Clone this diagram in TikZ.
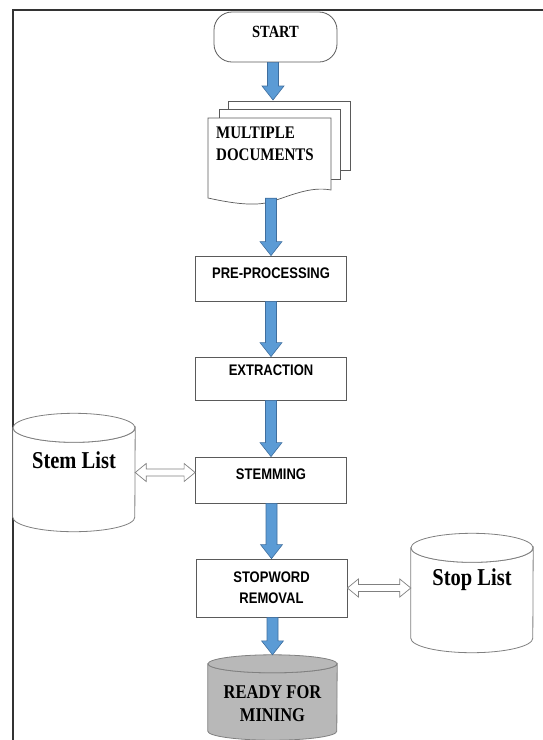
\documentclass[tikz,border=0pt]{standalone}
\usepackage{graphicx}
\usepackage{fontspec}
\setmainfont{Liberation Serif}
\newfontfamily\arialfont{Liberation Sans}
\usetikzlibrary{calc}

\definecolor{flowblue}{HTML}{5B9BD5}
\definecolor{flowblueedge}{HTML}{3F6E9E}
\definecolor{boxedge}{HTML}{5A5A5A}
\definecolor{cyledge}{HTML}{808080}
\definecolor{dbgrey}{HTML}{B8B8B8}

% slightly tall lettering
\newcommand\tall[1]{\scalebox{1}[1.18]{#1}}

% vertical block arrow from point #1 down to point #2 (x taken from #2)
\newcommand\blockarrow[2]{%
  \draw[blockarrowstyle] let \p1=#1, \p2=#2 in
    (\x2-5.5pt,\y1) -- (\x2-5.5pt,\y2+14pt) -- (\x2-11pt,\y2+14pt) -- (\x2,\y2)
    -- (\x2+11pt,\y2+14pt) -- (\x2+5.5pt,\y2+14pt) -- (\x2+5.5pt,\y1) -- cycle;}

% hollow two-headed horizontal arrow between points #1 and #2 (y taken from #1)
\newcommand\hollowdouble[2]{%
  \draw[hollowstyle] let \p1=#1, \p2=#2 in
    (\x1,\y1) -- (\x1+11pt,\y1+9pt) -- (\x1+11pt,\y1+3.5pt) -- (\x2-11pt,\y1+3.5pt)
    -- (\x2-11pt,\y1+9pt) -- (\x2,\y1) -- (\x2-11pt,\y1-9pt) -- (\x2-11pt,\y1-3.5pt)
    -- (\x1+11pt,\y1-3.5pt) -- (\x1+11pt,\y1-9pt) -- cycle;}

% cylinder outline around an invisible node #1 whose top/bottom are the ellipse centres
\newcommand\cylinderbody[4]{% name, half width, y radius, fill
  \filldraw[cylstyle, fill=#4] (#1.north west) -- (#1.south west)
    arc[start angle=180, end angle=360, x radius=#2, y radius=#3]
    -- (#1.north east) arc[start angle=0, end angle=-180, x radius=#2, y radius=#3] -- cycle;
  \filldraw[cylstyle, fill=#4] (#1.north) ellipse[x radius=#2, y radius=#3];}

\begin{document}
\begin{tikzpicture}[x=1pt, y=-1pt,
  stepbox/.style={draw=boxedge, line width=0.8pt, fill=white, minimum width=151pt,
    inner sep=0pt, align=center, font=\arialfont\bfseries\fontsize{13}{21}\selectfont},
  startbox/.style={draw=boxedge, line width=0.8pt, rounded corners=18pt, minimum width=123pt,
    minimum height=50pt, inner sep=0pt, font=\bfseries\fontsize{14.5}{16}\selectfont},
  pagestyle/.style={draw=boxedge, line width=0.7pt, fill=white},
  cylstyle/.style={draw=cyledge, line width=0.8pt},
  cylholder/.style={inner sep=0pt},
  cyltext/.style={font=\bfseries\fontsize{20.5}{22}\selectfont, align=center},
  blockarrowstyle/.style={draw=flowblueedge, line width=0.6pt, fill=flowblue},
  hollowstyle/.style={draw=cyledge, line width=0.7pt, fill=white},
  framestyle/.style={draw=black!80, line width=1.6pt}
]
\useasboundingbox (0,0) rectangle (543,740);

% page frame
\draw[framestyle] (543,10) -- (13,10) -- (13,740);

% start terminal
\node[startbox] (start) at (275.5,37)
  {\raisebox{5pt}[\height][\depth]{\tall{START}}};

% stack of documents
\coordinate (pagetop) at (273,100);
\filldraw[pagestyle] (228,101) rectangle (350,170);
\filldraw[pagestyle] (219,109) rectangle (340,179);
\filldraw[pagestyle] (208,118) -- (331,118) -- (331,190)
  .. controls (310,186) and (290,196) .. (270,202)
  .. controls (255,206) and (235,204) .. (208,198) -- cycle;
\node[minimum width=123pt, minimum height=80pt, inner sep=0pt] (docs) at (269.5,158) {};
\node[anchor=west, align=left, inner sep=0pt,
  font=\bfseries\fontsize{15}{22}\selectfont] (doctext) at (216,143.5)
  {\tall{MULTIPLE}\\\tall{DOCUMENTS}};

% processing steps
\node[stepbox, minimum height=45pt] (pre) at (271,278.5)
  {\raisebox{5pt}[\height][\depth]{\tall{PRE-PROCESSING}}};
\node[stepbox, minimum height=43pt] (extract) at (271,378.5)
  {\raisebox{8pt}[\height][\depth]{\tall{EXTRACTION}}};
\node[stepbox, minimum height=46pt] (stem) at (271,480)
  {\raisebox{6pt}[\height][\depth]{\tall{STEMMING}}};
\node[stepbox, minimum height=58pt] (stopword) at (271.5,588)
  {\tall{STOPWORD}\\\tall{REMOVAL}};

% word lists
\node[cylholder, minimum width=122pt, minimum height=89pt] (stemlist) at (74,472.5) {};
\cylinderbody{stemlist}{61pt}{14.5pt}{white}
\node[cyltext] (stemlabel) at (74,460) {\tall{Stem List}};

\node[cylholder, minimum width=122pt, minimum height=90pt] (stoplist) at (472,593) {};
\cylinderbody{stoplist}{61pt}{14.5pt}{white}
\node[cyltext] (stoplabel) at (472,580) {\tall{Stop List}};

% output store
\node[cylholder, minimum width=129pt, minimum height=67pt] (ready) at (272.5,697.5) {};
\cylinderbody{ready}{64.5pt}{9pt}{dbgrey}
\node[font=\bfseries\fontsize{16.5}{23}\selectfont, align=center] (readytext) at (272.5,703.5)
  {\tall{READY FOR}\\\tall{MINING}};

% flow arrows
\blockarrow{(start.south)}{(pagetop)}
\blockarrow{(docs.south)}{(pre.north)}
\blockarrow{(pre.south)}{(extract.north)}
\blockarrow{(extract.south)}{(stem.north)}
\blockarrow{(stem.south)}{(stopword.north)}
\blockarrow{(stopword.south)}{($(ready.north)+(0,-9)$)}

% list look-ups
\hollowdouble{(stemlist.east)}{(stem.west)}
\hollowdouble{(stopword.east)}{(stoplist.west)}
\end{tikzpicture}
\end{document}
